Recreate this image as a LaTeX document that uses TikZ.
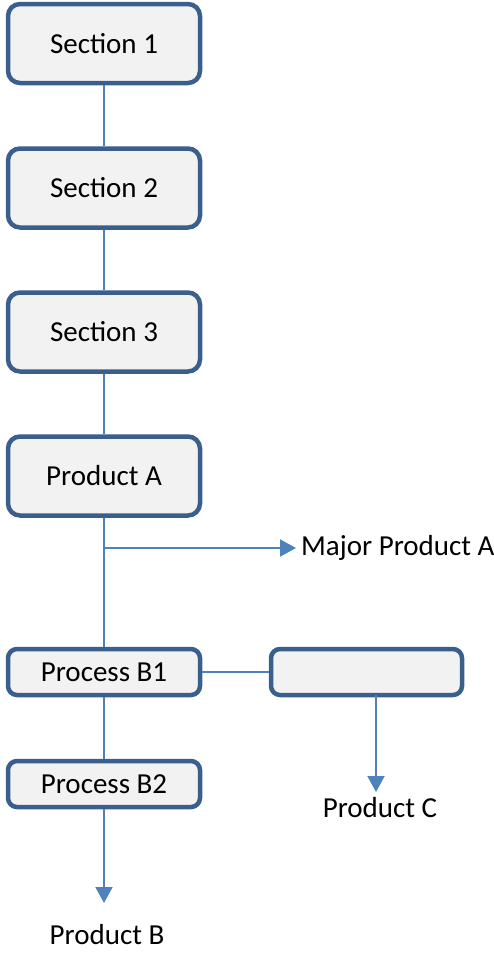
\documentclass[tikz,border=0pt]{standalone}
\usepackage{fontspec}
\setmainfont{Carlito}
\usetikzlibrary{arrows.meta}
\definecolor{boxline}{HTML}{3A5F8C}
\definecolor{boxfill}{HTML}{F2F2F2}
\definecolor{conn}{HTML}{4F81BD}
\tikzset{
  bigbox/.style={draw=boxline, fill=boxfill, line width=4.5pt, rounded corners=12pt,
    minimum width=192pt, minimum height=79pt, inner sep=0pt, font=\fontsize{29}{34}\selectfont},
  smallbox/.style={draw=boxline, fill=boxfill, line width=4.5pt, rounded corners=9pt,
    minimum width=192pt, minimum height=46pt, inner sep=0pt, font=\fontsize{29}{34}\selectfont},
  lbl/.style={inner sep=0pt, font=\fontsize{29}{34}\selectfont},
  conline/.style={draw=conn, line width=2pt},
  conarrow/.style={draw=conn, line width=2pt, -{Triangle[length=16pt,width=17pt]}}
}
\begin{document}
\begin{tikzpicture}[x=1pt,y=-1pt]
\useasboundingbox (0,0) rectangle (494,953);
\node[bigbox] (s1) at (104,43.5) {Section 1};
\node[bigbox] (s2) at (104,188) {Section 2};
\node[bigbox] (s3) at (104,332) {Section 3};
\node[bigbox] (pa) at (104,476) {Product A};
\node[smallbox] (b1) at (104,672) {Process B1};
\node[smallbox] (b2) at (104,784) {Process B2};
\node[smallbox, minimum width=191pt] (rb) at (366.5,672) {};
\node[lbl, anchor=west] (mpa) at (301,548) {Major Product A};
\node[lbl] (pc) at (380,808) {Product C};
\node[lbl] (pb) at (107,935) {Product B};
\coordinate (split) at (104,548);
\coordinate (mpatip) at (296,548);
\coordinate (rbout) at (376,695);
\coordinate (pctip) at (376,792);
\coordinate (pbtip) at (104,903);
\draw[conline] (s1) -- (s2);
\draw[conline] (s2) -- (s3);
\draw[conline] (s3) -- (pa);
\draw[conline] (pa) -- (b1);
\draw[conarrow] (split) -- (mpatip);
\draw[conline] (b1) -- (b2);
\draw[conline] (b1) -- (rb);
\draw[conarrow] (rbout) -- (pctip);
\draw[conarrow] (b2) -- (pbtip);
\end{tikzpicture}
\end{document}
